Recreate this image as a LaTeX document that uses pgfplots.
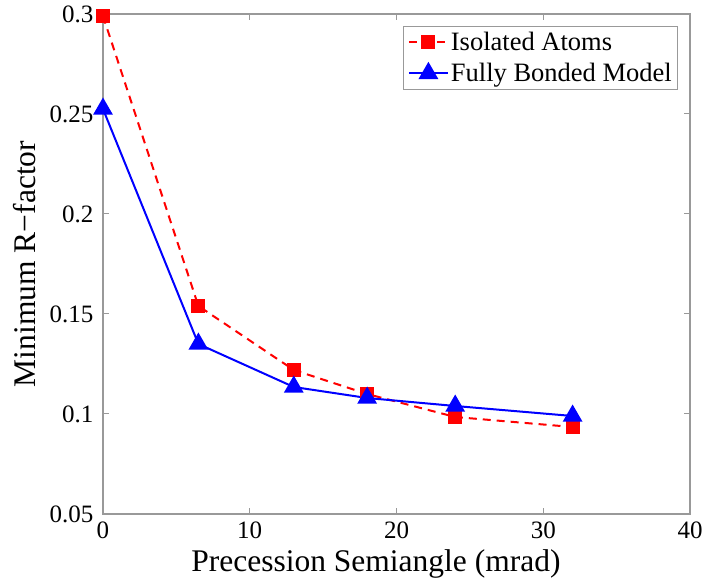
\documentclass[border=0pt]{standalone}
\usepackage{pgfplots}
\pgfplotsset{compat=1.18}
\usepackage{fontspec}
\setmainfont{Liberation Serif}
\begin{document}
\begin{tikzpicture}
\begin{axis}[
  scale only axis,
  width=587pt, height=500pt,
  xmin=0, xmax=40, ymin=0.05, ymax=0.3,
  xtick={0,10,20,30,40},
  ytick={0.05,0.1,0.15,0.2,0.25,0.3},
  /pgf/number format/assume math mode=true,
  /pgf/number format/fixed,
  tick align=inside,
  major tick length=6pt,
  axis line style={gray!80, line width=1.2pt},
  every tick/.style={gray!80, line width=1pt},
  ticklabel style={font=\fontsize{25}{28}\selectfont},
  xticklabel style={anchor=north, yshift=-4pt},
  yticklabel style={anchor=east, xshift=-6pt},
  label style={font=\fontsize{31.5}{35}\selectfont},
  xlabel={Precession Semiangle (mrad)},
  ylabel={Minimum R−factor},
  xlabel style={at={(axis description cs:0.465,0)}, anchor=base, yshift=-57pt},
  ylabel style={at={(axis description cs:-0.133,0.5)}, anchor=center, rotate=0},
  legend style={at={(0.98,0.976)}, anchor=north east, draw=gray!80, line width=1pt,
    font=\fontsize{26.5}{30}\selectfont, inner xsep=4pt, inner ysep=4pt,
    nodes={inner sep=2pt}, row sep=7pt,
    /tikz/every even column/.append style={column sep=0pt}},
  legend cell align=left,
  legend image code/.code={
    \draw[mark repeat=2,mark phase=2] plot coordinates {(0pt,0pt) (19.5pt,0pt) (39pt,0pt)};
  },
]
\addplot[red, line width=2pt, dash pattern=on 8pt off 6pt, mark=square*, mark size=6pt, mark options={solid, fill=red}]
  coordinates {(0,0.299) (6.5,0.154) (13,0.122) (18,0.110) (24,0.0985) (32,0.0935)};
\addlegendentry{Isolated Atoms}
\addplot[blue, line width=2pt, mark=triangle*, mark size=9.5pt, mark options={solid, fill=blue}]
  coordinates {(0,0.2525) (6.5,0.135) (13,0.1135) (18,0.108) (24,0.104) (32,0.099)};
\addlegendentry{Fully Bonded Model\hspace{14pt}}
\end{axis}
\pgfresetboundingbox
\path[use as bounding box] ([shift={(-103pt,-67pt)}]current axis.south west) rectangle ([shift={(12pt,14pt)}]current axis.north east);
\end{tikzpicture}
\end{document}
